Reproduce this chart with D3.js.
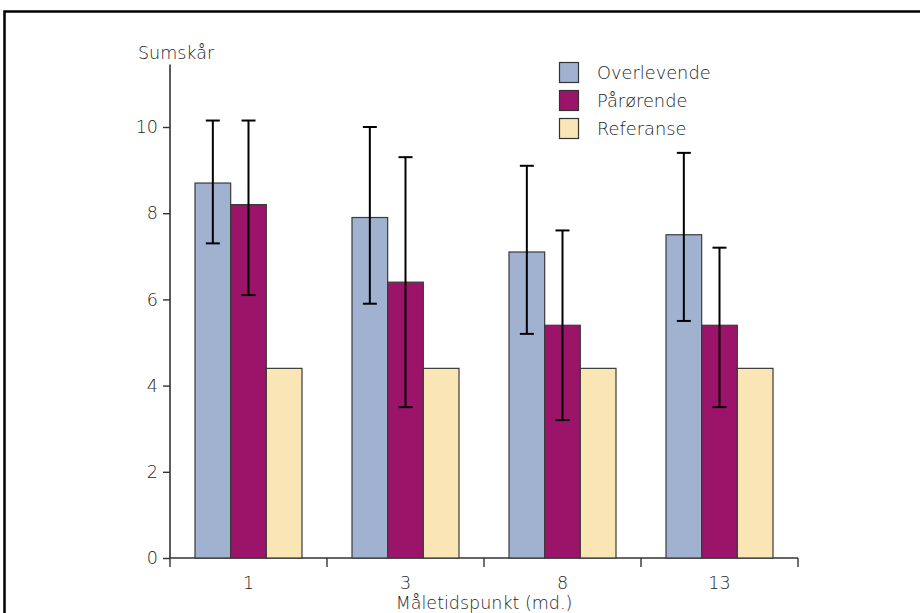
<!DOCTYPE html>
<html><head><meta charset="utf-8">
<script src="https://cdn.jsdelivr.net/npm/d3@7"></script>
<style>
html,body{margin:0;padding:0;background:#fff;}
svg{display:block;}
text{font-family:"DejaVu Sans","Liberation Sans",Arial,sans-serif;font-weight:200;fill:#1e1e1e;}
</style></head><body>
<svg id="c" width="920" height="613"></svg>
<script>
const categories = ["1", "3", "8", "13"];
const series = ["Overlevende", "Pårørende", "Referanse"];
const overlevende = [8.7, 7.9, 7.1, 7.5];
const overlevendeLow = [7.3, 5.9, 5.2, 5.5];
const overlevendeHigh = [10.15, 10.0, 9.1, 9.4];
const parorende = [8.2, 6.4, 5.4, 5.4];
const parorendeLow = [6.1, 3.5, 3.2, 3.5];
const parorendeHigh = [10.15, 9.3, 7.6, 7.2];
const referanse = [4.4, 4.4, 4.4, 4.4];
const yTicks = [0, 2, 4, 6, 8, 10];
const colors = ["#a1b2d1", "#9c1469", "#fae5b4"];

const values = [overlevende, parorende, referanse];
const lows = [overlevendeLow, parorendeLow, null];
const highs = [overlevendeHigh, parorendeHigh, null];

const svg = d3.select("#c");
svg.append("path").attr("d", "M4.5,613 L4.5,11.5 L920,11.5")
  .attr("fill", "none").attr("stroke", "#000").attr("stroke-width", 2.5);

const x0 = 170, x1 = 798, yBase = 558;
const x = d3.scaleBand().domain(categories).range([x0, x1]).paddingInner(0).paddingOuter(0);
const xs = d3.scaleBand().domain(series).range([25, x.bandwidth() - 25]).padding(0);
const y = d3.scaleLinear().domain([0, 10]).range([yBase, 127]);

const axisColor = "#333";
svg.append("line").attr("x1", x0).attr("x2", x0).attr("y1", y(11.45)).attr("y2", yBase)
  .attr("stroke", axisColor).attr("stroke-width", 1.6);
const yAxis = d3.axisLeft(y).tickValues(yTicks).tickSize(7).tickPadding(5);
const gy = svg.append("g").attr("transform", `translate(${x0},0)`).call(yAxis);
gy.select(".domain").remove();
gy.selectAll(".tick line").attr("stroke", axisColor).attr("stroke-width", 1.4);
gy.selectAll(".tick text").style("font-size", "17.5px").attr("fill", "#1e1e1e");

const xAxis = d3.axisBottom(x).tickSize(0).tickPadding(19);
const gx = svg.append("g").attr("transform", `translate(0,${yBase})`).call(xAxis);
gx.select(".domain").attr("stroke", axisColor).attr("stroke-width", 1.6).attr("d", `M${x0},0H${x1}`);
gx.selectAll(".tick text").style("font-size", "17.5px").attr("fill", "#1e1e1e");
gy.attr("font-family", null); gx.attr("font-family", null);
const bounds = categories.map(c => x(c)).concat([x1]);
svg.append("g").selectAll("line").data(bounds).join("line")
  .attr("x1", d => d).attr("x2", d => d).attr("y1", yBase).attr("y2", yBase + 9)
  .attr("stroke", axisColor).attr("stroke-width", 1.4);

series.forEach((s, si) => {
  const g = svg.append("g");
  g.selectAll("rect").data(categories).join("rect")
    .attr("x", c => x(c) + xs(s))
    .attr("width", xs.bandwidth())
    .attr("y", (c, i) => y(values[si][i]))
    .attr("height", (c, i) => yBase - y(values[si][i]))
    .attr("fill", colors[si]).attr("stroke", "#3a3a3a").attr("stroke-width", 1.2);
});
series.forEach((s, si) => {
  if (!lows[si]) return;
  const g = svg.append("g").attr("stroke", "#000").attr("stroke-width", 2);
  categories.forEach((c, i) => {
    const cx = x(c) + xs(s) + xs.bandwidth() / 2;
    const lo = y(lows[si][i]), hi = y(highs[si][i]);
    g.append("line").attr("x1", cx).attr("x2", cx).attr("y1", hi).attr("y2", lo);
    g.append("line").attr("x1", cx - 7).attr("x2", cx + 7).attr("y1", hi).attr("y2", hi);
    g.append("line").attr("x1", cx - 7).attr("x2", cx + 7).attr("y1", lo).attr("y2", lo);
  });
});

svg.append("text").attr("x", 138).attr("y", 59).style("font-size", "17.5px").text("Sumskår");
svg.append("text").attr("x", (x0 + x1) / 2).attr("y", 609).attr("text-anchor", "middle")
  .style("font-size", "17.5px").text("Måletidspunkt (md.)");

const lg = svg.append("g");
series.forEach((s, i) => {
  lg.append("rect").attr("x", 559.5).attr("y", 62.5 + i * 28).attr("width", 19).attr("height", 20)
    .attr("fill", colors[i]).attr("stroke", "#333").attr("stroke-width", 1.2);
  lg.append("text").attr("x", 597).attr("y", 79 + i * 28).style("font-size", "17.8px").text(s);
});
</script>
</body></html>
